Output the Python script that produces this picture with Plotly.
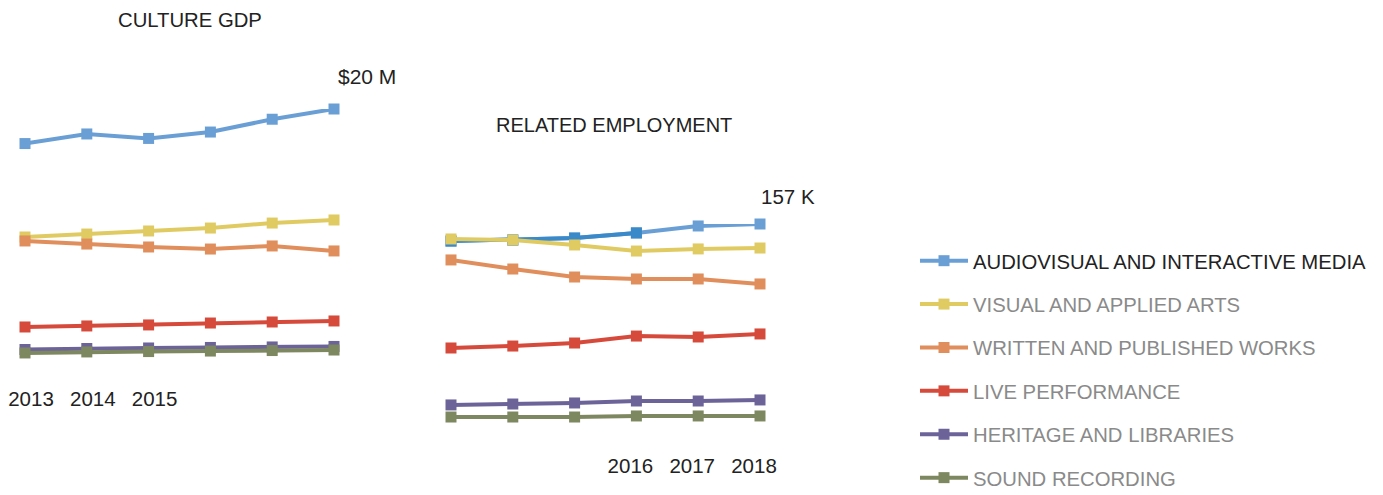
import plotly.graph_objects as go

# ---- data -------------------------------------------------------------
years = [2013, 2014, 2015, 2016, 2017, 2018]

series_names = [
    "AUDIOVISUAL AND INTERACTIVE MEDIA",
    "VISUAL AND APPLIED ARTS",
    "WRITTEN AND PUBLISHED WORKS",
    "LIVE PERFORMANCE",
    "HERITAGE AND LIBRARIES",
    "SOUND RECORDING",
]

# Culture GDP ($ M)
gdp_audiovisual = [17.3, 18.05, 17.7, 18.2, 19.2, 20.0]
gdp_visual_arts = [10.0, 10.23, 10.47, 10.7, 11.09, 11.33]
gdp_written = [9.69, 9.45, 9.22, 9.06, 9.3, 8.91]
gdp_live = [2.97, 3.05, 3.13, 3.28, 3.36, 3.44]
gdp_heritage = [1.21, 1.29, 1.33, 1.37, 1.41, 1.45]
gdp_sound = [0.94, 1.02, 1.05, 1.09, 1.13, 1.17]

# Related employment (K jobs)
emp_audiovisual = [144.0, 144.8, 146.3, 150.2, 155.5, 157.0]
emp_visual_arts = [145.6, 144.8, 141.0, 136.4, 138.0, 138.7]
emp_written = [129.6, 122.7, 116.6, 115.1, 115.1, 111.3]
emp_live = [62.5, 64.0, 66.3, 71.6, 70.9, 73.2]
emp_heritage = [19.1, 19.8, 20.6, 22.1, 22.1, 22.9]
emp_sound = [9.9, 9.9, 9.9, 10.7, 10.7, 10.7]

left_ticks = [2013, 2014, 2015]
right_ticks = [2016, 2017, 2018]

# ---- styling ----------------------------------------------------------
colors = ["#6a9fd5", "#e0cb63", "#e08e5c", "#d64a3b", "#6c6398", "#7e8860"]
accent_blue = "#3a89c9"
FONT = "Liberation Sans, Arial, Helvetica, sans-serif"
W, H = 1383, 495


def px(x):
    return x / W


def py(y):
    return 1 - y / H


gdp = [gdp_audiovisual, gdp_visual_arts, gdp_written, gdp_live, gdp_heritage, gdp_sound]
emp = [emp_audiovisual, emp_visual_arts, emp_written, emp_live, emp_heritage, emp_sound]

fig = go.Figure()

for i, name in enumerate(series_names):
    label = name if i == 0 else f'<span style="color:#8a8a8a">{name}</span>'
    style = dict(
        mode="lines+markers",
        line=dict(color=colors[i], width=4),
        marker=dict(symbol="square", size=11, color=colors[i]),
        legendgroup=name,
        cliponaxis=False,
    )
    fig.add_trace(go.Scatter(x=years, y=gdp[i], name=label, showlegend=True,
                             xaxis="x", yaxis="y", **style))

for i, name in enumerate(series_names):
    style = dict(
        mode="lines+markers",
        line=dict(color=colors[i], width=4),
        marker=dict(symbol="square", size=11, color=colors[i]),
        legendgroup=name,
        cliponaxis=False,
        showlegend=False,
    )
    fig.add_trace(go.Scatter(x=years, y=emp[i], xaxis="x2", yaxis="y2", **style))
    if i == 0:
        # earlier employment years are highlighted in a deeper blue
        fig.add_trace(go.Scatter(
            x=years[:4], y=emp[i][:4], mode="lines+markers",
            line=dict(color=accent_blue, width=4),
            marker=dict(symbol="square", size=11, color=accent_blue),
            legendgroup=name, showlegend=False, cliponaxis=False,
            xaxis="x2", yaxis="y2"))

axis_common = dict(showgrid=False, zeroline=False, showline=False, ticks="",
                   automargin=False,
                   tickfont=dict(family=FONT, size=20.5, color="#222"))

fig.update_layout(
    width=W, height=H,
    margin=dict(l=0, r=0, t=0, b=0, autoexpand=False),
    paper_bgcolor="white", plot_bgcolor="white",
    font=dict(family=FONT, size=20, color="#222"),
    xaxis=dict(domain=[px(25), px(334)], range=[2013, 2018], anchor="y",
               tickvals=left_ticks, ticktext=[str(t) for t in left_ticks],
               ticklabelshift=6, ticklabelstandoff=19, **axis_common),
    yaxis=dict(domain=[py(365), py(109)], range=[0, 20], visible=False, anchor="x"),
    xaxis2=dict(domain=[px(451), px(760)], range=[2013, 2018], anchor="y2",
                tickvals=right_ticks, ticktext=[str(t) for t in right_ticks],
                ticklabelshift=-6, ticklabelstandoff=21, **axis_common),
    yaxis2=dict(domain=[py(430), py(224)], range=[0, 157], visible=False, anchor="x2"),
    legend=dict(x=px(915), y=py(241), xanchor="left", yanchor="top",
                tracegroupgap=14, itemwidth=48,
                font=dict(family=FONT, size=20.3, color="#222"),
                bgcolor="rgba(0,0,0,0)"),
    showlegend=True,
)

fig.add_annotation(text="CULTURE GDP", x=px(190), y=py(20), xref="paper", yref="paper",
                   xanchor="center", yanchor="middle",
                   showarrow=False, font=dict(size=20.3, color="#222"))
fig.add_annotation(text="RELATED EMPLOYMENT", x=px(614), y=py(125), xref="paper", yref="paper",
                   xanchor="center", yanchor="middle",
                   showarrow=False, font=dict(size=20, color="#222"))
fig.add_annotation(text=f"${gdp_audiovisual[-1]:.0f} M", x=years[-1], y=gdp_audiovisual[-1],
                   xref="x", yref="y", showarrow=False, xshift=33, yshift=32,
                   font=dict(size=21, color="#222"))
fig.add_annotation(text=f"{emp_audiovisual[-1]:.0f} K", x=years[-1], y=emp_audiovisual[-1],
                   xref="x2", yref="y2", showarrow=False, xshift=28, yshift=28,
                   font=dict(size=20.5, color="#222"))

fig.write_html("out.html")
